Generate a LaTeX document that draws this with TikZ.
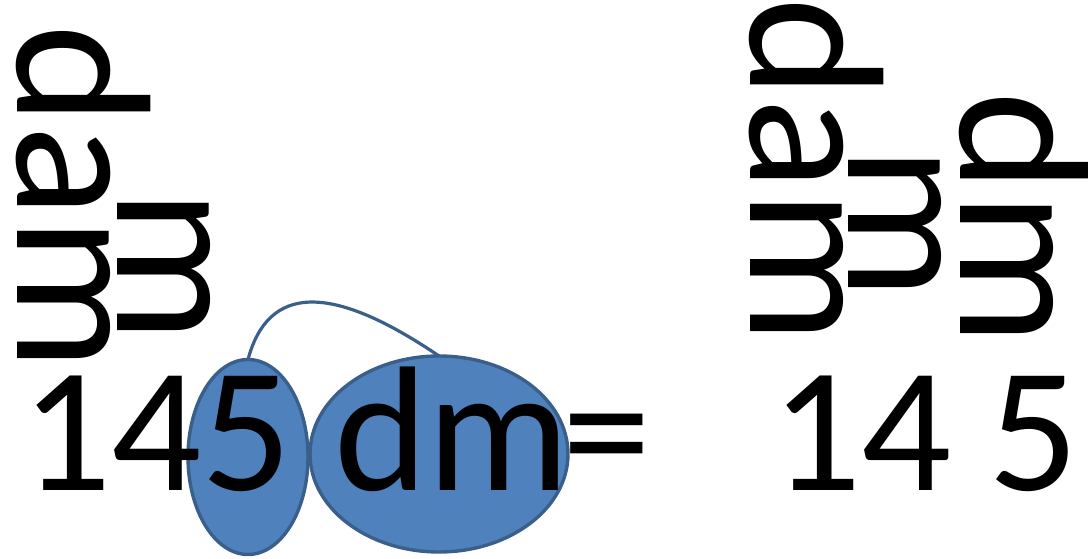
\documentclass[tikz,border=0pt]{standalone}
\usepackage{fontspec}
\setmainfont{Carlito}
\usetikzlibrary{shapes.geometric}
\definecolor{ellfill}{HTML}{4F81BD}
\definecolor{elldraw}{HTML}{3A5F8B}
\tikzset{
  bigtxt/.style={font=\fontsize{178pt}{200pt}\selectfont, inner sep=0pt, outer sep=0pt, anchor=base west},
  rottxt/.style={font=\fontsize{192pt}{210pt}\selectfont, inner sep=0pt, outer sep=0pt, text depth=0pt, rotate=-90, anchor=base west},
  blob/.style={ellipse, fill=ellfill, draw=elldraw, line width=3.4pt, inner sep=0pt, outer sep=0pt},
  link/.style={draw=elldraw, line width=3.2pt}
}
\begin{document}
\begin{tikzpicture}[x=1pt,y=1pt]
\useasboundingbox (0,0) rectangle (1088,558);
% ellipses
\node[blob, minimum width=120pt, minimum height=195pt] (s) at (248,101) {};
\node[blob, minimum width=258pt, minimum height=196pt] (l) at (439,104) {};
\draw[link] (s.north) .. controls (268,273) and (330,276) .. (l.north);
% rotated labels
\node[rottxt] (dam1) at (17,533) {dam};
\node[rottxt] (m1) at (117,368) {m};
\node[rottxt] (dam2) at (750,560) {dam};
\node[rottxt] (m2) at (848,411) {m};
\node[rottxt] (dm2) at (960,466) {dm};
% bottom row
\node[bigtxt] (n145) at (21,68) {145};
\node[bigtxt] (dm) at (334,68) {dm};
\node[bigtxt] (eq) at (562,68) {=};
\node[bigtxt] (n14) at (771,68) {14};
\node[bigtxt] (n5) at (988,68) {5};
\end{tikzpicture}
\end{document}
